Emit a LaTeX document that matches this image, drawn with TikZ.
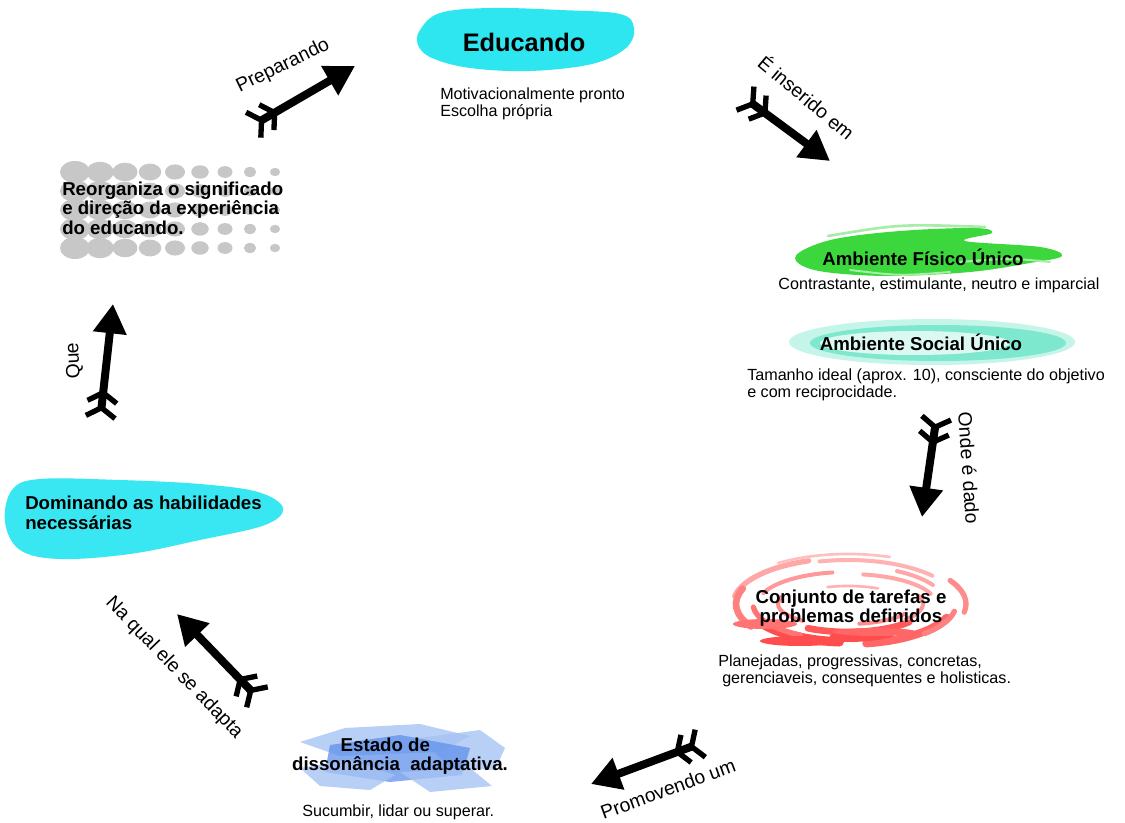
\documentclass[tikz,border=0pt]{standalone}
\usepackage{fontspec}
\setmainfont{Liberation Sans}
\usetikzlibrary{arrows.meta, calc}
\definecolor{CianoBase}{RGB}{45,230,240}
\definecolor{VerdeBase}{RGB}{60,215,60}
\definecolor{AguaBase}{RGB}{125,232,205}
\definecolor{AzulBase}{RGB}{95,145,235}
\colorlet{FilledEducando}{CianoBase}
\colorlet{FilledDominando}{CianoBase!95!white}
\colorlet{FilledFisico}{VerdeBase}
\colorlet{FilledFisicoClaro}{VerdeBase!45!white}
\colorlet{FilledSocial}{AguaBase}
\colorlet{FilledSocialClaro}{AguaBase!45!white}
\colorlet{FilledDissonancia}{AzulBase}
\colorlet{FilledDissonanciaClaro}{AzulBase!55!white}
\colorlet{FilledPontos}{black!22}

\tikzset{
  seta/.style={line width=6pt,
    {Straight Barb[reversed,length=7pt,width=22pt,line width=4pt,sep=1pt]Straight Barb[reversed,length=7pt,width=22pt,line width=4pt]}-{Triangle[length=22pt,width=24pt]}},
  rotulo/.style={inner sep=0pt, font=\fontsize{14.5}{17}\selectfont},
  titulo/.style={inner sep=0pt, font=\fontsize{14}{14.6}\selectfont\bfseries},
  texto/.style={inner sep=0pt, font=\fontsize{12.1}{13}\selectfont},
}

\begin{document}
\begin{tikzpicture}[x=0.75pt, y=-0.75pt]

    \fill[white] (0,0) rectangle (1125,823);
    \useasboundingbox (0,0) rectangle (1125,823);

    % Educando
    \fill[FilledEducando] plot[smooth cycle, tension=0.6] coordinates
        {(420,30) (440,13) (490,8) (560,10) (620,14) (634,28) (626,48) (592,64) (530,71) (470,68) (432,58) (418,45)};
    \node[inner sep=0pt, font=\fontsize{19}{22}\selectfont\bfseries] (educando) at (524,42) {Educando};
    \node[texto, anchor=west, align=left] (educandoDesc) at (440,104)
        {Motivacionalmente pronto\\Escolha própria};

    % Ambiente fisico
    \fill[FilledFisico] plot[smooth cycle, tension=0.6] coordinates
        {(800,252) (835,239) (900,231) (975,228) (992,233) (965,241) (1040,247) (1062,256) (1030,263) (970,272) (890,276) (825,272) (798,263)};
    \draw[FilledFisicoClaro, line width=2pt, line cap=round] (828,236) .. controls (900,224) .. (985,227);
    \draw[FilledFisicoClaro, line width=1.5pt, line cap=round] (960,262) .. controls (1010,258) .. (1050,262);
    \draw[FilledFisicoClaro, line width=1.5pt, line cap=round] (850,270) .. controls (900,276) .. (950,272);
    \node[titulo] (fisico) at (923,257) {Ambiente Físico Único};
    \node[texto] (fisicoDesc) at (939,285) {Contrastante, estimulante, neutro e imparcial};

    % Ambiente social
    \fill[FilledSocialClaro] (932,342) ellipse [x radius=143, y radius=23];
    \fill[FilledSocial] (938,343) ellipse [x radius=128, y radius=18];
    \fill[FilledSocialClaro!60!white] (915,343) ellipse [x radius=95, y radius=12];
    \node[titulo] (social) at (921,342) {Ambiente Social Único};
    \node[texto, anchor=west, align=left] (socialDesc) at (747,385)
        {Tamanho ideal (aprox. 10), consciente do objetivo\\e com reciprocidade.};

    % Conjunto de tarefas
    \coordinate (C) at (848,604);
    \foreach \rx/\ry/\a/\b/\w/\c in {
        115/46/190/250/4/35, 110/44/255/320/3/30, 118/47/330/370/4/45,
        105/40/20/80/6/60, 100/38/95/150/7/70, 112/45/150/200/5/50,
        90/32/200/260/3/40, 88/30/280/340/3/35, 80/28/40/120/5/65,
        95/36/120/175/4/55, 70/22/130/200/3/45, 75/24/340/400/3/40,
        60/18/250/300/2/30, 122/50/235/290/2/25, 98/38/300/330/3/35,
        84/34/60/100/6/70, 108/42/10/45/4/50, 65/20/30/80/3/45} {
        \draw[red!\c, line width=\w pt, line cap=round]
            ($(C)+(\a:{\rx} and {\ry})$) arc[start angle=\a, end angle=\b, x radius=\rx, y radius=\ry];
    }
    \fill[red!70] (800,641) ellipse [x radius=40, y radius=5];
    \fill[red!60] (875,632) ellipse [x radius=42, y radius=4];
    \fill[red!55] (765,624) ellipse [x radius=32, y radius=5];
    \node[titulo, align=center] (conjunto) at (851,608) {Conjunto de tarefas e\\problemas definidos};
    \node[texto, anchor=west, align=left] (conjuntoDesc) at (718,671)
        {Planejadas, progressivas, concretas,\\\hspace*{3pt}gerenciaveis, consequentes e holisticas.};

    % Estado de dissonancia
    \fill[FilledDissonanciaClaro, opacity=0.8] (300,742) -- (345,728) -- (420,724) -- (470,736) -- (440,752) -- (340,756) -- cycle;
    \fill[FilledDissonanciaClaro, opacity=0.8] (420,738) -- (480,730) -- (505,748) -- (495,770) -- (450,768) -- cycle;
    \fill[FilledDissonancia, opacity=0.75] (330,745) -- (400,735) -- (470,748) -- (462,775) -- (390,782) -- (325,772) -- cycle;
    \fill[FilledDissonanciaClaro, opacity=0.8] (300,768) -- (350,760) -- (395,775) -- (370,790) -- (320,786) -- cycle;
    \fill[FilledDissonanciaClaro, opacity=0.8] (400,772) -- (470,768) -- (492,786) -- (430,792) -- cycle;
    \node[titulo, align=center] (dissonancia) at (400,756) {Estado de\hspace*{22pt}\\dissonância\ \ adaptativa.};
    \node[texto, anchor=west] (dissonanciaDesc) at (302,812) {Sucumbir, lidar ou superar.};

    % Dominando as habilidades
    \fill[FilledDominando] plot[smooth cycle, tension=0.6] coordinates
        {(12,490) (40,479) (120,480) (200,484) (258,492) (283,508) (265,525) (200,540) (130,554) (60,559) (20,550) (5,522)};
    \node[titulo, anchor=west, align=left] (dominando) at (25,513) {Dominando as habilidades\\necessárias};

    % Reorganiza
    \foreach \i in {0,...,8} {
        \foreach \j in {0,...,4} {
            \fill[FilledPontos] (75+25*\i, 172+19*\j) ellipse [x radius={15-1.25*\i}, y radius={11-0.85*\i}];
        }
    }
    \node[titulo, anchor=west, align=left] (reorganiza) at (62,208)
        {Reorganiza o significado\\e direção da experiência\\do educando.};

    % Setas
    \coordinate (PrepA) at (250,127);
    \coordinate (PrepB) at (355,66);
    \coordinate (InsA) at (742,96);
    \coordinate (InsB) at (830,161);
    \coordinate (OndeA) at (937,414);
    \coordinate (OndeB) at (922,517);
    \coordinate (PromA) at (704,742);
    \coordinate (PromB) at (591,784);
    \coordinate (AdapA) at (260,700);
    \coordinate (AdapB) at (177,614);
    \coordinate (QueA) at (100,421);
    \coordinate (QueB) at (113,304);

    \draw[seta] (PrepA) -- (PrepB);
    \draw[seta] (InsA) -- (InsB);
    \draw[seta] (OndeA) -- (OndeB);
    \draw[seta] (PromA) -- (PromB);
    \draw[seta] (AdapA) -- (AdapB);
    \draw[seta] (QueA) -- (QueB);

    \node[rotulo, rotate=26] (preparando) at (283,66) {Preparando};
    \node[rotulo, rotate=-40] (inserido) at (807,97) {É inserido em};
    \node[rotulo, rotate=-86] (onde) at (969,468) {Onde é dado};
    \node[rotulo, rotate=20] (promovendo) at (668,789) {Promovendo um};
    \node[rotulo, rotate=-46] (adapta) at (174,668) {Na qual ele se adapta};
    \node[rotulo, rotate=93] (que) at (74,361) {Que};

\end{tikzpicture}
\end{document}
